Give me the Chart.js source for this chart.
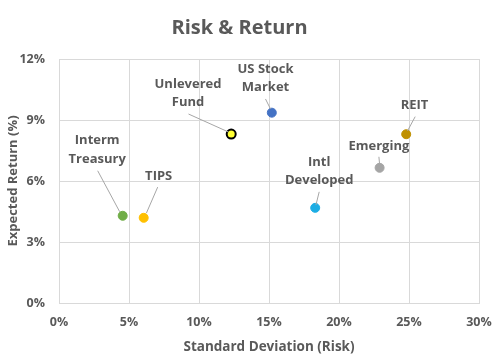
<!DOCTYPE html>
<html>
<head>
<meta charset="utf-8">
<script src="https://cdn.jsdelivr.net/npm/chart.js@4.4.0/dist/chart.umd.min.js"></script>
<style>
    html, body { margin: 0; padding: 0; background: #fff; }
    #wrap { width: 500px; height: 364px; }
</style>
</head>
<body>
<div id="wrap"><canvas id="riskChart"></canvas></div>
<script>
// Dados
const assetNames = [['Interm', 'Treasury'], ['TIPS'], ['Unlevered', 'Fund'], ['US Stock', 'Market'], ['REIT'], ['Emerging'], ['Intl', 'Developed']];
const riskValues = [4.55, 6.05, 12.3, 15.2, 24.8, 22.9, 18.3];
const returnValues = [4.29, 4.19, 8.31, 9.36, 8.3, 6.65, 4.68];
const pointColors = ['#70AD47', '#FFC000', '#FFFF33', '#4472C4', '#BF9000', '#A5A5A5', '#1CADE4'];
const pointBorders = ['#70AD47', '#FFC000', '#000000', '#4472C4', '#BF9000', '#A5A5A5', '#1CADE4'];

// Posição dos rótulos (texto e linha guia) em px relativos ao ponto
const labelLayout = [
    { text: [-25.5, -75], from: [-25, -45], to: [-3, -4] },
    { text: [15, -41.7], from: [14, -30.7], to: [2.7, -4.7] },
    { text: [-43.2, -49.7], from: [-42.7, -20], to: [-2.7, -2] },
    { text: [-6.3, -43.4], from: [-6.3, -13.7], to: [-1.3, -3.7] },
    { text: [8.3, -28.6], from: [9, -17.6], to: [1.3, -3.3] },
    { text: [-0.7, -21.7], from: [-0.7, -11], to: [0, -3.4] },
    { text: [4, -46], from: [4, -16], to: [0.7, -2.7] }
];

const textColor = '#595959';
const fontFamily = "'Open Sans', sans-serif";

const labelPlugin = {
    id: 'assetLabels',
    afterDatasetsDraw(chart) {
        const ctx = chart.ctx;
        const meta = chart.getDatasetMeta(0);
        ctx.save();
        meta.data.forEach((pt, i) => {
            const lay = labelLayout[i];
            ctx.strokeStyle = '#A6A6A6';
            ctx.lineWidth = 1;
            ctx.beginPath();
            ctx.moveTo(pt.x + lay.from[0], pt.y + lay.from[1]);
            ctx.lineTo(pt.x + lay.to[0], pt.y + lay.to[1]);
            ctx.stroke();

            ctx.fillStyle = textColor;
            ctx.font = `bold 13px ${fontFamily}`;
            ctx.textAlign = 'center';
            ctx.textBaseline = 'middle';
            assetNames[i].forEach((line, j) => {
                ctx.fillText(line, pt.x + lay.text[0], pt.y + lay.text[1] + j * 18.3);
            });
        });
        ctx.restore();
    }
};

new Chart(document.getElementById('riskChart'), {
    type: 'scatter',
    data: {
        datasets: [{
            data: riskValues.map((r, i) => ({ x: r, y: returnValues[i] })),
            pointBackgroundColor: pointColors,
            pointBorderColor: pointBorders,
            pointBorderWidth: pointBorders.map((c, i) => i === 2 ? 2 : 1),
            pointRadius: 4.5
        }]
    },
    options: {
        responsive: true,
        maintainAspectRatio: false,
        animation: false,
        layout: { padding: { left: 0, right: 21, top: 0, bottom: 0 } },
        plugins: {
            legend: { display: false },
            tooltip: { enabled: false },
            title: {
                display: true,
                text: 'Risk & Return',
                color: textColor,
                font: { family: fontFamily, size: 20, weight: 'bold' },
                padding: { top: 16.6, bottom: 18.4 }
            }
        },
        scales: {
            x: {
                type: 'linear',
                min: 0,
                max: 30,
                ticks: {
                    stepSize: 5,
                    color: textColor,
                    padding: 12,
                    font: { family: fontFamily, size: 12.5, weight: 'bold' },
                    callback: v => v + '%'
                },
                grid: { color: '#D9D9D9', drawTicks: false },
                border: { color: '#D9D9D9' },
                title: {
                    display: true,
                    text: 'Standard Deviation (Risk)',
                    color: textColor,
                    font: { family: fontFamily, size: 13.5, weight: 'bold' },
                    padding: { top: 0, bottom: 8.8 }
                },
                afterFit(scale) {
                    scale.height = 61;
                    scale.paddingLeft = 0;
                    scale.paddingRight = 0;
                }
            },
            y: {
                type: 'linear',
                min: 0,
                max: 12,
                ticks: {
                    stepSize: 3,
                    color: textColor,
                    padding: 14,
                    font: { family: fontFamily, size: 12.5, weight: 'bold' },
                    callback: v => v + '%'
                },
                grid: { color: '#D9D9D9', drawTicks: false },
                border: { color: '#D9D9D9' },
                title: {
                    display: true,
                    text: 'Expected Return (%)',
                    color: textColor,
                    font: { family: fontFamily, size: 13, weight: 'bold' },
                    padding: { top: 5, bottom: 0 }
                },
                afterFit(scale) {
                    scale.width = 59;
                    scale.paddingTop = 0;
                    scale.paddingBottom = 0;
                }
            }
        }
    },
    plugins: [labelPlugin]
});
</script>
</body>
</html>
